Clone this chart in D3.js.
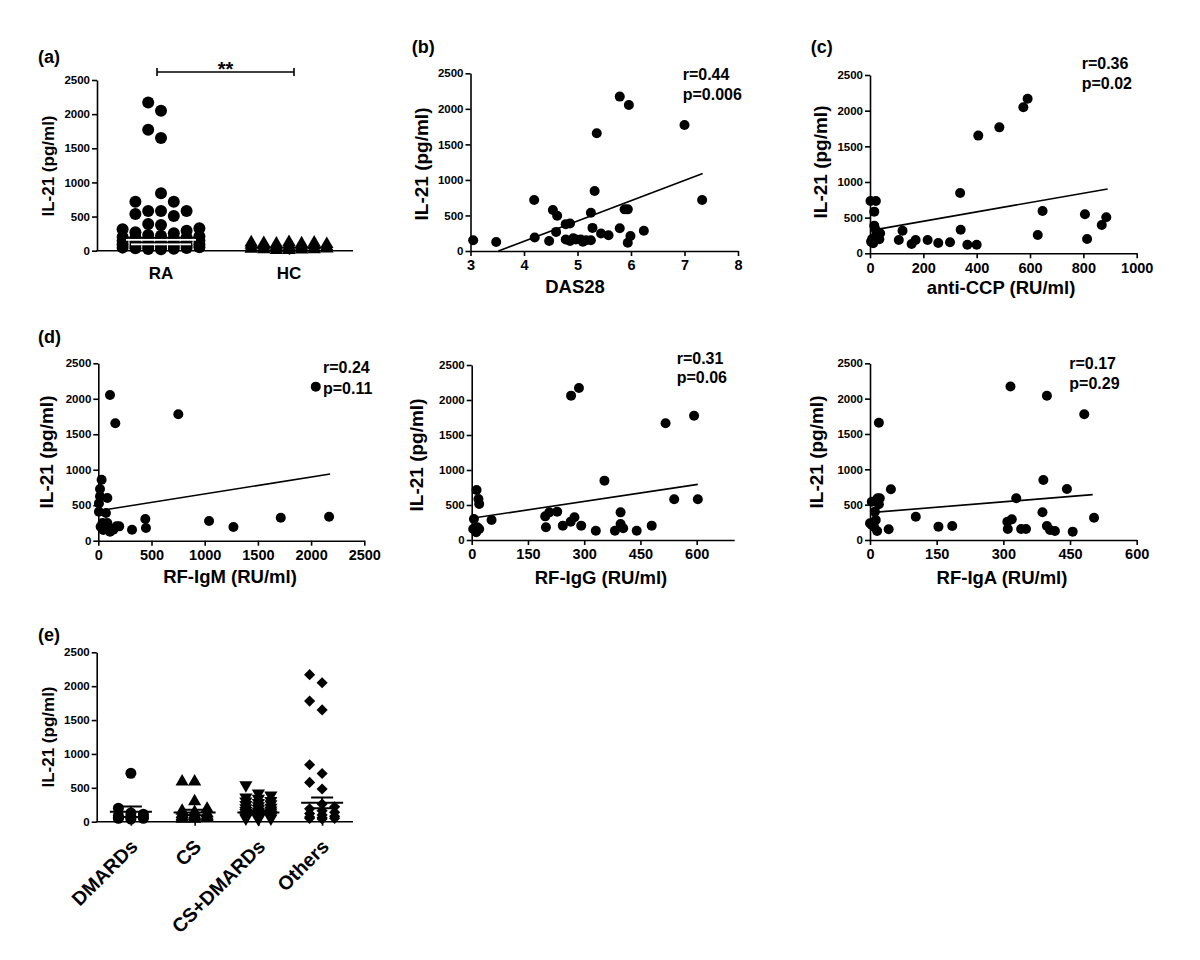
<!DOCTYPE html>
<html><head><meta charset="utf-8">
<script src="https://cdn.jsdelivr.net/npm/d3@7"></script>
<style>
body{margin:0;background:#fff;}
svg text{font-family:"Liberation Sans",Arial,Helvetica,sans-serif;font-weight:bold;fill:#000;}
</style></head><body>
<svg id="c" width="1200" height="960"></svg>
<script>
// ---------------- DATA ----------------
const Y_TICKS = [0, 500, 1000, 1500, 2000, 2500];
const Y_LABEL = "IL-21 (pg/ml)";

// (a) RA vs HC
const GROUPS_A = ["RA", "HC"];
const RA_IL21 = [2170, 2050, 1770, 1650, 840, 717, 717, 581, 581, 581, 537, 508, 391, 376, 328, 313, 293, 269, 255,
  230, 220, 210, 200, 195, 190, 180, 170, 160, 150, 145, 140, 130, 120, 110, 100, 95, 90, 80, 75, 70, 60, 55, 50, 45, 40, 35, 30, 25, 20];
const HC_IL21 = [125, 120, 115, 110, 105, 100, 95, 90, 85, 80, 75, 70, 65, 60, 55, 50, 45, 40, 40, 35, 30, 30, 25, 20, 20, 15, 10, 10];
const RA_LINES = [190, 123];
const HC_LINES = [45];
const SIG_A = "**";

// (b) DAS28
const DAS28_X_TICKS = [3, 4, 5, 6, 7, 8];
const DAS28_PTS = [[3.05,151],[3.48,127],[4.19,717],[4.2,189],[4.47,141],[4.54,576],[4.62,495],[4.6,269],[4.78,378],[4.86,387],
  [4.78,161],[4.86,141],[4.92,178],[4.97,161],[5.06,161],[5.1,131],[5.16,151],[5.25,151],[5.25,537],[5.28,325],[5.32,845],[5.36,1656],
  [5.44,246],[5.58,222],[5.79,2172],[5.79,319],[5.88,586],[5.94,586],[5.96,2054],[5.94,117],[5.99,211],[6.24,286],[7.0,1773],[7.33,718]];
const DAS28_FIT = [[3.52,0],[7.34,1090]];
const DAS28_STATS = ["r=0.44", "p=0.006"];

// (c) anti-CCP
const CCP_X_TICKS = [0, 200, 400, 600, 800, 1000];
const CCP_PTS = [[2,734],[22,734],[16,584],[16,388],[4,164],[12,140],[20,234],[28,280],[35,196],[38,280],[22,327],[8,200],
  [108,187],[122,317],[156,131],[171,187],[216,187],[256,145],[300,154],[338,845],[340,331],[365,121],[400,121],[406,1650],
  [485,1766],[575,2047],[591,2168],[629,257],[647,593],[806,547],[814,201],[869,397],[886,505]];
const CCP_FIT = [[0,318],[891,902]];
const CCP_STATS = ["r=0.36", "p=0.02"];

// (d) RF-IgM
const IGM_X_TICKS = [0, 500, 1000, 1500, 2000, 2500];
const IGM_PTS = [[31,860],[16,728],[16,625],[6,526],[6,409],[22,197],[47,150],[72,202],[85,601],[72,390],[85,249],[110,127],
  [141,155],[172,202],[197,202],[40,250],[60,170],[110,2054],[160,1654],[317,155],[442,305],[448,179],[752,1781],[1041,277],
  [1270,193],[1715,324],[2044,2171],[2169,338]];
const IGM_FIT = [[6,423],[2179,940]];
const IGM_STATS = ["r=0.24", "p=0.11"];

// RF-IgG
const IGG_X_TICKS = [0, 150, 300, 450, 600];
const IGG_PTS = [[13,714],[18,586],[20,514],[6,300],[4,157],[15,181],[20,157],[12,110],[53,286],[198,181],[196,338],[207,395],
  [228,405],[243,205],[264,262],[274,324],[265,2062],[286,2171],[292,205],[331,133],[354,848],[382,133],[397,395],[397,229],
  [404,167],[440,133],[480,205],[517,1667],[540,581],[593,1776],[603,581]];
const IGG_FIT = [[0,310],[603,795]];
const IGG_STATS = ["r=0.31", "p=0.06"];

// RF-IgA
const IGA_X_TICKS = [0, 150, 300, 450, 600];
const IGA_PTS = [[4,542],[11,401],[4,212],[0,236],[9,189],[16,127],[13,283],[17,590],[22,590],[20,505],[20,1660],[42,151],
  [47,717],[103,330],[154,189],[185,198],[316,2172],[310,156],[309,259],[319,292],[329,590],[340,156],[351,156],[388,392],
  [390,849],[398,2042],[398,198],[405,142],[416,127],[443,722],[456,118],[482,1778],[504,316]];
const IGA_FIT = [[0,387],[501,642]];
const IGA_STATS = ["r=0.17", "p=0.29"];

// (e) treatments
const GROUPS_E = ["DMARDs", "CS", "CS+DMARDs", "Others"];
const E_DMARDS = [715, 200, 130, 110, 90, 80, 70, 60, 50, 50, 40, 60];
const E_CS = [590, 590, 300, 190, 160, 140, 120, 110, 100, 90, 80, 70, 60, 50, 50, 40, 40, 60, 80];
const E_CSDMARDS = [540, 420, 390, 360, 340, 310, 300, 280, 260, 250, 230, 210, 200, 190, 170, 160, 150, 140, 130, 120, 110, 100, 90, 80, 70, 60, 50, 50, 40];
const E_OTHERS = [2170, 2050, 1780, 1650, 840, 712, 580, 482, 260, 220, 190, 160, 140, 120, 100, 80, 70, 60, 50, 50, 40];
const E_MEAN = [147, 137, 137, 278];
const E_SEM = [79, 40, 30, 80];

// ---------------- DRAWING ----------------
const svg = d3.select("#c");
const SW = 1.6;
const fmt = d3.format("d");

function styleAxis(g, fs) {
  g.attr("font-size", fs).attr("font-family", null);
  g.selectAll("path.domain").attr("stroke", "#000").attr("stroke-width", SW);
  g.selectAll(".tick line").attr("stroke", "#000").attr("stroke-width", SW);
}

function yAxis(y, x0) {
  const g = svg.append("g").attr("transform", `translate(${x0},0)`)
    .call(d3.axisLeft(y).tickValues(Y_TICKS).tickFormat(fmt).tickSize(5).tickPadding(2).tickSizeOuter(0));
  styleAxis(g, 11.5);
}

function yLabel(x, y, fs) {
  svg.append("text").attr("transform", `translate(${x},${y}) rotate(-90)`)
    .attr("text-anchor", "middle").attr("dy", "0.35em").attr("font-size", fs).text(Y_LABEL);
}

function letter(t, x, y) {
  svg.append("text").attr("x", x).attr("y", y).attr("dy", "0.35em").attr("font-size", 18).text(t);
}

function gridSwarm(values, y, cx, step, K, r) {
  const pts = values.map(v => ({v, py: y(v)})).sort((a, b) => a.v - b.v);
  const placed = [];
  const ks = [0];
  for (let k = 1; k <= K; k++) ks.push(-k, k);
  pts.forEach(p => {
    let best = cx, bestD = -1;
    for (const k of ks) {
      const px = cx + k * step;
      let minD = Infinity;
      for (const q of placed) {
        const d = Math.hypot(q.px - px, q.py - p.py);
        if (d < minD) minD = d;
      }
      if (minD >= 2 * r * 0.95) { best = px; break; }
      if (minD > bestD) { bestD = minD; best = px; }
    }
    p.px = best;
    placed.push(p);
  });
  return placed;
}

function scatterPanel(L, pts, fit, stats, xTicks, xDomain, xTitle, letterText) {
  const x = d3.scaleLinear().domain(xDomain).range([L.ax, L.bx]);
  const y = d3.scaleLinear().domain([0, 2500]).range([L.y0, L.y1]);
  const gx = svg.append("g").attr("transform", `translate(0,${L.y0})`)
    .call(d3.axisBottom(x).tickValues(xTicks).tickFormat(fmt).tickSize(5).tickPadding(4).tickSizeOuter(0));
  styleAxis(gx, 14.5);
  yAxis(y, L.ax);
  svg.append("g").selectAll("circle").data(pts).join("circle")
    .attr("cx", d => x(d[0])).attr("cy", d => y(d[1])).attr("r", 5).attr("fill", "#000");
  svg.append("line").attr("x1", x(fit[0][0])).attr("y1", y(fit[0][1]))
    .attr("x2", x(fit[1][0])).attr("y2", y(fit[1][1])).attr("stroke", "#000").attr("stroke-width", 1.6);
  stats.forEach((s, i) => svg.append("text").attr("x", L.statX).attr("y", L.statY[i]).attr("dy", "0.35em")
    .attr("font-size", 16).text(s));
  svg.append("text").attr("x", L.titleX).attr("y", L.titleY).attr("dy", "0.35em")
    .attr("text-anchor", "middle").attr("font-size", 18.5).text(xTitle);
  yLabel(L.ylabX, L.ylabY, 19);
  if (letterText) letter(letterText, L.letter[0], L.letter[1]);
}

// ---- (a) ----
{
  const x = d3.scalePoint().domain(GROUPS_A).range([97, 353]).padding(0.5);
  const y = d3.scaleLinear().domain([0, 2500]).range([250.7, 80]);
  const gx = svg.append("g").attr("transform", `translate(0,${y(0)})`)
    .call(d3.axisBottom(x).tickSize(4).tickSizeOuter(0).tickFormat(""));
  styleAxis(gx, 17);
  gx.select("path.domain").attr("d", "M96.2,0H353");
  yAxis(y, 97);
  const ra = gridSwarm(RA_IL21, y, x("RA"), 12.8, 3, 6);
  svg.append("g").selectAll("circle").data(ra).join("circle")
    .attr("cx", d => d.px).attr("cy", d => d.py).attr("r", 6).attr("fill", "#000");
  const hc = gridSwarm(HC_IL21, y, x("HC"), 12.6, 3, 6);
  const tri = d3.symbol().type(d3.symbolTriangle).size(78)();
  svg.append("g").selectAll("path").data(hc).join("path")
    .attr("d", tri).attr("transform", d => `translate(${d.px},${d.py})`).attr("fill", "#000");
  RA_LINES.forEach((v, i) => {
    const w = i === 0 ? 35 : 30;
    svg.append("line").attr("x1", x("RA") - w).attr("x2", x("RA") + w).attr("y1", y(v) + 2).attr("y2", y(v) + 2)
      .attr("stroke", "#fff").attr("stroke-width", 2);
    svg.append("line").attr("x1", x("RA") - w).attr("x2", x("RA") + w).attr("y1", y(v)).attr("y2", y(v))
      .attr("stroke", "#000").attr("stroke-width", 1.8);
  });
  HC_LINES.forEach(v => svg.append("line").attr("x1", x("HC") - 35).attr("x2", x("HC") + 35)
    .attr("y1", y(v)).attr("y2", y(v)).attr("stroke", "#000").attr("stroke-width", 1.8));
  GROUPS_A.forEach(g => svg.append("text").attr("x", x(g)).attr("y", 273).attr("dy", "0.35em")
    .attr("text-anchor", "middle").attr("font-size", 17).text(g));
  const x0 = 157, x1 = 294, yb = 72;
  svg.append("path").attr("d", `M${x0},${yb - 4}V${yb + 4}M${x0},${yb}H${x1}M${x1},${yb - 4}V${yb + 4}`)
    .attr("stroke", "#000").attr("stroke-width", 1.6).attr("fill", "none");
  svg.append("text").attr("x", (x0 + x1) / 2).attr("y", 76).attr("text-anchor", "middle").attr("font-size", 20).text(SIG_A);
  yLabel(48, 166, 17);
  letter("(a)", 38, 57);
}

// ---- scatter panels ----
scatterPanel({ax:470.5, bx:738, y0:251, y1:73.3, titleX:575, titleY:287, ylabX:421.7, ylabY:164, statX:682.7, statY:[74.3,94], letter:[411.7,47]},
  DAS28_PTS, DAS28_FIT, DAS28_STATS, DAS28_X_TICKS, [3, 8], "DAS28", "(b)");
scatterPanel({ax:870, bx:1136.7, y0:253.3, y1:75, titleX:1001, titleY:288, ylabX:820, ylabY:162, statX:1081.7, statY:[63,83], letter:[810.7,47]},
  CCP_PTS, CCP_FIT, CCP_STATS, CCP_X_TICKS, [0, 1000], "anti-CCP (RU/ml)", "(c)");
scatterPanel({ax:98.3, bx:364.3, y0:540.7, y1:363.3, titleX:230, titleY:577, ylabX:46.7, ylabY:452, statX:323, statY:[367.7,388], letter:[38,337]},
  IGM_PTS, IGM_FIT, IGM_STATS, IGM_X_TICKS, [0, 2500], "RF-IgM (RU/ml)", "(d)");
scatterPanel({ax:471.7, bx:734.2, y0:540, y1:365, titleX:601, titleY:578, ylabX:416.7, ylabY:455, statX:676.7, statY:[358.3,377]},
  IGG_PTS, IGG_FIT, IGG_STATS, IGG_X_TICKS, [0, 700], "RF-IgG (RU/ml)", null);
scatterPanel({ax:870, bx:1136.7, y0:540, y1:363.3, titleX:1002, titleY:578, ylabX:816.7, ylabY:452, statX:1069.3, statY:[363.3,383]},
  IGA_PTS, IGA_FIT, IGA_STATS, IGA_X_TICKS, [0, 600], "RF-IgA (RU/ml)", null);

// ---- (e) ----
{
  const x = d3.scalePoint().domain(GROUPS_E).range([99, 354]).padding(0.5);
  const y = d3.scaleLinear().domain([0, 2500]).range([821.7, 652.3]);
  const gx = svg.append("g").attr("transform", `translate(0,${y(0)})`)
    .call(d3.axisBottom(x).tickSize(4).tickSizeOuter(0).tickFormat(""));
  styleAxis(gx, 18);
  gx.select("path.domain").attr("d", "M96.2,0H353");
  yAxis(y, 96.7);
  const sets = [E_DMARDS, E_CS, E_CSDMARDS, E_OTHERS];
  const shapes = [
    d3.symbol().type(d3.symbolCircle).size(95)(),
    d3.symbol().type(d3.symbolTriangle).size(75)(),
    d3.symbol().type(d3.symbolTriangle).size(75)(),
    d3.symbol().type(d3.symbolSquare).size(62)()
  ];
  const rots = [0, 0, 180, 45];
  sets.forEach((vals, i) => {
    const cx = x(GROUPS_E[i]);
    const pts = gridSwarm(vals, y, cx, 12.5, 1, 5.5);
    svg.append("g").selectAll("path").data(pts).join("path")
      .attr("d", shapes[i]).attr("fill", "#000")
      .attr("transform", d => `translate(${d.px},${d.py}) rotate(${rots[i]})`);
    const m = E_MEAN[i], s = E_SEM[i];
    svg.append("path")
      .attr("d", `M${cx - 21},${y(m)}H${cx + 21}M${cx},${y(m - s)}V${y(m + s)}M${cx - 11},${y(m + s)}H${cx + 11}M${cx - 11},${y(m - s)}H${cx + 11}`)
      .attr("stroke", "#000").attr("stroke-width", 2).attr("fill", "none");
    svg.append("text").attr("transform", `translate(${cx - 2},${838}) rotate(-45)`)
      .attr("text-anchor", "end").attr("dy", "0.72em").attr("font-size", 19.5).text(GROUPS_E[i]);
  });
  yLabel(48, 737, 17);
  letter("(e)", 38, 635);
}
</script>
</body></html>
